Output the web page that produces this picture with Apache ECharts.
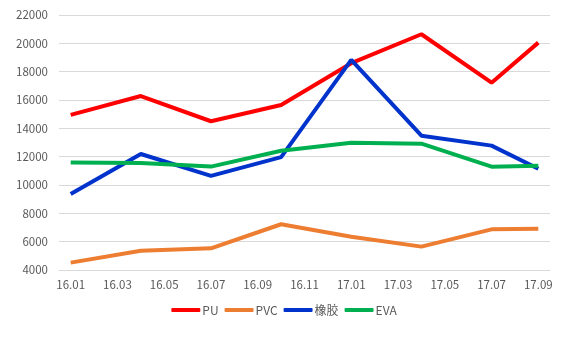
<!DOCTYPE html>
<html>
<head>
<meta charset="utf-8">
<script src="https://cdn.jsdelivr.net/npm/echarts@6/dist/echarts.min.js"></script>
<style>
  html, body { margin: 0; padding: 0; background: #fff; }
  #main { width: 568px; height: 354px; }
</style>
</head>
<body>
<div id="main"></div>
<script>
// months 16.01 .. 17.09, data is quarterly (plus 17.09), gaps are null
var months = ['16.01','16.02','16.03','16.04','16.05','16.06','16.07','16.08','16.09','16.10','16.11','16.12',
              '17.01','17.02','17.03','17.04','17.05','17.06','17.07','17.08','17.09'];
var pu   = [14950,null,null,16280,null,null,14500,null,null,15650,null,null,18600,null,null,20640,null,null,17220,null,20050];
var pvc  = [4520,null,null,5360,null,null,5530,null,null,7230,null,null,6350,null,null,5650,null,null,6870,null,6920];
var xj   = [9370,null,null,12190,null,null,10640,null,null,11970,null,null,18830,null,null,13480,null,null,12780,null,11150];
var eva  = [11580,null,null,11560,null,null,11300,null,null,12420,null,null,12990,null,null,12920,null,null,11290,null,11360];
var names = ['PU','PVC','橡胶','EVA'];
var colors = ['#ff0000','#ed7d31','#0033cc','#00b050'];

var font = '"Noto Sans CJK SC", "Liberation Sans", sans-serif';
var dom = document.getElementById('main');
var myChart = echarts.init(dom);

function line(name, data, color) {
    return {
        name: name,
        type: 'line',
        data: data,
        connectNulls: true,
        showSymbol: false,
        symbol: 'none',
        lineStyle: { width: 4, color: color },
        itemStyle: { color: color },
        animation: false
    };
}

var option = {
    color: colors,
    grid: { left: 59, right: 18, top: 15, bottom: 84 },
    legend: {
        data: names,
        bottom: 33,
        left: 'center',
        icon: 'roundRect',
        itemWidth: 29,
        itemHeight: 4,
        itemGap: 6,
        textStyle: { color: '#595959', fontSize: 12, fontFamily: font, padding: [0, 0, 0, -3] }
    },
    xAxis: {
        type: 'category',
        data: months,
        boundaryGap: true,
        axisLine: { lineStyle: { color: '#d9d9d9', width: 1 } },
        axisTick: { interval: 1, length: 5, lineStyle: { color: '#d9d9d9' } },
        axisLabel: { interval: 1, margin: 9, color: '#595959', fontSize: 11.5, fontFamily: font }
    },
    yAxis: {
        type: 'value',
        min: 4000,
        max: 22000,
        interval: 2000,
        axisLine: { show: false },
        axisTick: { show: false },
        splitLine: { lineStyle: { color: '#d9d9d9', width: 1 } },
        axisLabel: {
            margin: 11, color: '#595959', fontSize: 11.5, fontFamily: font,
            formatter: function (v) { return String(v); }
        }
    },
    series: [
        line(names[0], pu, colors[0]),
        line(names[1], pvc, colors[1]),
        line(names[2], xj, colors[2]),
        line(names[3], eva, colors[3])
    ]
};
myChart.setOption(option, true);
</script>
</body>
</html>
